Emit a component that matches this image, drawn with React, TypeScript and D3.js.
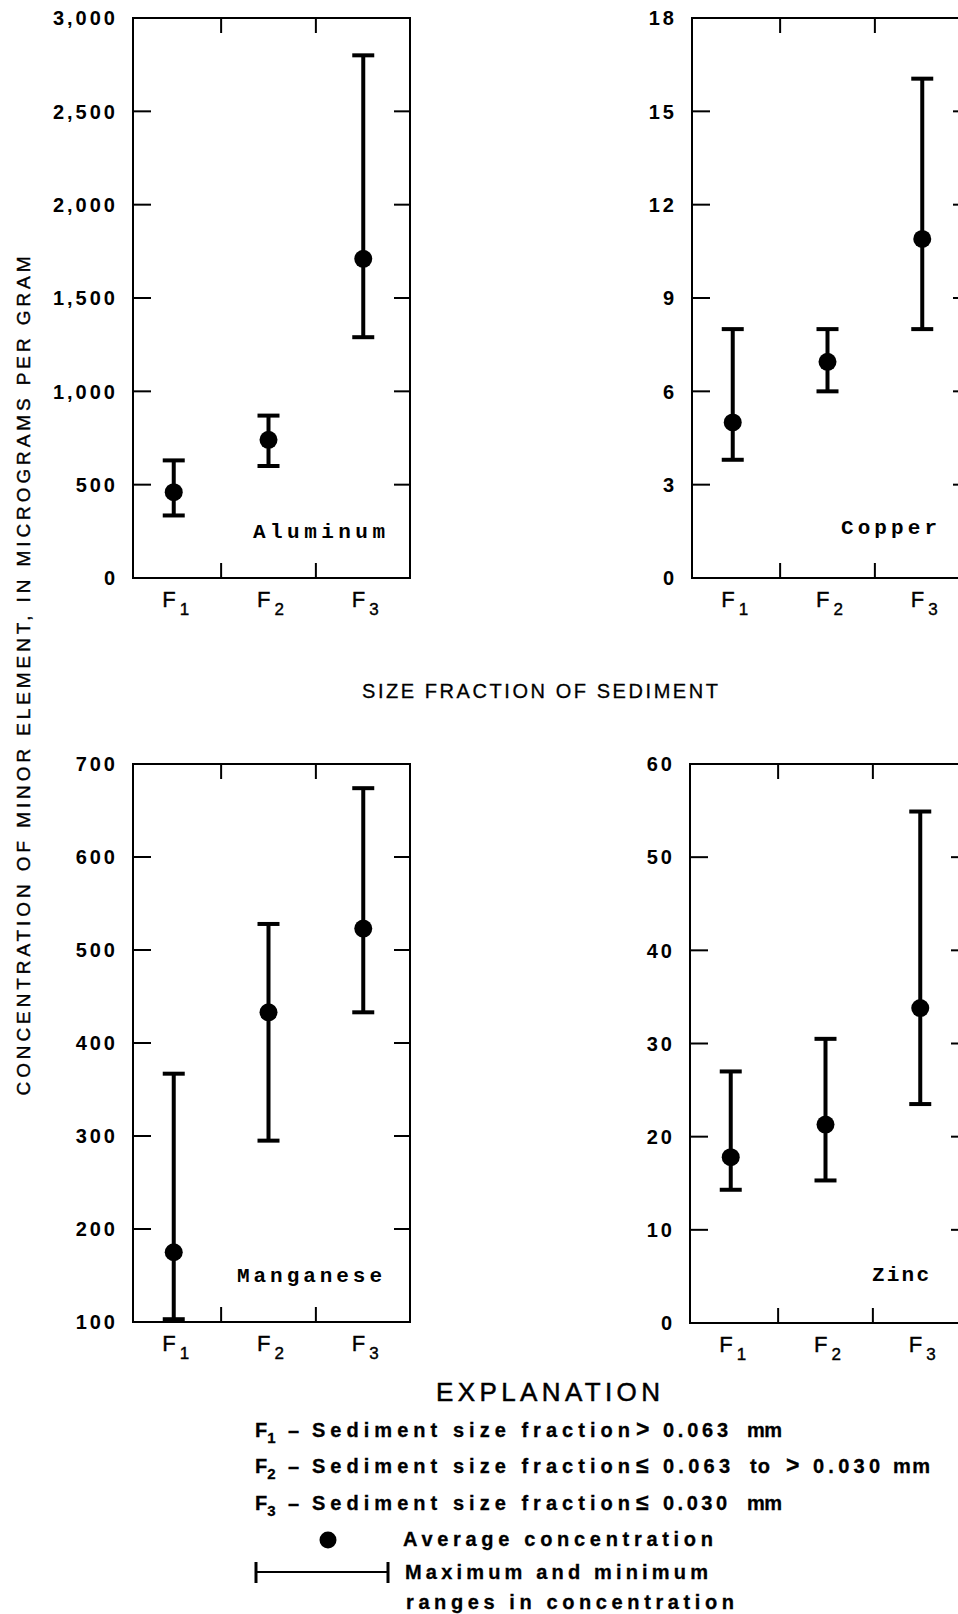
import React from "react";
import * as d3 from "d3";

// size fractions on the x axis
const fractions = ["F1", "F2", "F3"];

// Aluminum, micrograms per gram
const aluminumMean = [460, 740, 1710];
const aluminumMax = [630, 870, 2800];
const aluminumMin = [335, 600, 1290];
const aluminumTicks = [0, 500, 1000, 1500, 2000, 2500, 3000];

// Copper
const copperMean = [5.0, 6.95, 10.9];
const copperMax = [8.0, 8.0, 16.05];
const copperMin = [3.8, 6.0, 8.0];
const copperTicks = [0, 3, 6, 9, 12, 15, 18];

// Manganese
const manganeseMean = [175, 433, 523];
const manganeseMax = [367, 528, 674];
const manganeseMin = [103, 295, 433];
const manganeseTicks = [100, 200, 300, 400, 500, 600, 700];

// Zinc
const zincMean = [17.8, 21.3, 33.8];
const zincMax = [27.0, 30.5, 54.9];
const zincMin = [14.3, 15.3, 23.5];
const zincTicks = [0, 10, 20, 30, 40, 50, 60];

const sans = "'Liberation Sans', Arial, Helvetica, sans-serif";
const mono = "'Liberation Mono', 'Courier New', monospace";

function Panel(props) {
  const { x0, y0, width, height, ticks, fmt, mean, max, min, name, nameX, nameY, nameW } = props;
  const domain = [ticks[0], ticks[ticks.length - 1]];

  const x = d3.scalePoint().domain(fractions).range([0, width - 6]).padding(0.43);
  const y = d3.scaleLinear().domain(domain).range([height, 0]);

  const step = x.step();
  const dividers = fractions.slice(1).map((f) => x(f) - step / 2);
  const inner = ticks.filter((t) => t !== domain[0] && t !== domain[1]);
  const cap = 11;

  return (
    <g transform={`translate(${x0},${y0})`}>
      <rect x={0} y={0} width={width} height={height} fill="none" stroke="#000" strokeWidth={2} />

      {/* inward ticks */}
      {inner.map((t) => (
        <g key={"t" + t} stroke="#000" strokeWidth={2}>
          <line x1={0} x2={18} y1={y(t)} y2={y(t)} />
          <line x1={width - 16} x2={width} y1={y(t)} y2={y(t)} />
        </g>
      ))}
      {dividers.map((d, i) => (
        <g key={"d" + i} stroke="#000" strokeWidth={2}>
          <line x1={d} x2={d} y1={0} y2={15} />
          <line x1={d} x2={d} y1={height - 15} y2={height} />
        </g>
      ))}

      {/* y tick labels */}
      {ticks.map((t) => (
        <text
          key={"l" + t}
          x={-15}
          y={y(t)}
          dy="0.36em"
          textAnchor="end"
          fontFamily={sans}
          fontWeight="bold"
          fontSize={20}
          letterSpacing={3}
        >
          {fmt(t)}
        </text>
      ))}

      {/* error bars and means */}
      {fractions.map((f, i) => (
        <g key={f}>
          <line x1={x(f)} x2={x(f)} y1={y(max[i])} y2={y(min[i])} stroke="#000" strokeWidth={4} />
          <line x1={x(f) - cap} x2={x(f) + cap} y1={y(max[i])} y2={y(max[i])} stroke="#000" strokeWidth={4} />
          <line x1={x(f) - cap} x2={x(f) + cap} y1={y(min[i])} y2={y(min[i])} stroke="#000" strokeWidth={4} />
          <circle cx={x(f)} cy={y(mean[i])} r={9} fill="#000" />
        </g>
      ))}

      {/* x category labels */}
      {fractions.map((f) => (
        <text
          key={"x" + f}
          x={x(f) + 2}
          y={height + 29}
          textAnchor="middle"
          fontFamily={sans}
          fontSize={22}
          stroke="#000"
          strokeWidth={0.4}
        >
          <tspan>{f[0]}</tspan>
          <tspan dx={4} dy={8} fontSize={17}>
            {f.slice(1)}
          </tspan>
        </text>
      ))}

      <text
        x={nameX - x0}
        y={nameY - y0}
        fontFamily={mono}
        fontWeight="bold"
        fontSize={21}
        textLength={nameW}
        lengthAdjust="spacing"
      >
        {name}
      </text>
    </g>
  );
}

function Sub({ x, y, main, sub }) {
  return (
    <text x={x} y={y} fontFamily={sans} fontWeight="bold" fontSize={20} stroke="#000" strokeWidth={0.3}>
      <tspan>{main}</tspan>
      <tspan dx={0} dy={6} fontSize={15}>
        {sub}
      </tspan>
    </text>
  );
}

function Piece({ x, y, w, children, size = 20 }) {
  return (
    <text
      x={x}
      y={y}
      fontFamily={sans}
      fontWeight="bold"
      fontSize={size}
      stroke="#000"
      strokeWidth={0.3}
      textLength={w}
      lengthAdjust="spacing"
    >
      {children}
    </text>
  );
}

export default function App() {
  const comma = d3.format(",");
  const plain = d3.format("d");

  return (
    <div>
      <style>{"body{margin:0}"}</style>
      <svg width={958} height={1614} style={{ display: "block", background: "#fff" }}>
        <Panel
          x0={133} y0={18} width={277} height={560}
          ticks={aluminumTicks} fmt={comma}
          mean={aluminumMean} max={aluminumMax} min={aluminumMin}
          name="Aluminum" nameX={253} nameY={538} nameW={132}
        />
        <Panel
          x0={692} y0={18} width={277} height={560}
          ticks={copperTicks} fmt={plain}
          mean={copperMean} max={copperMax} min={copperMin}
          name="Copper" nameX={841} nameY={534} nameW={96}
        />
        <Panel
          x0={133} y0={764} width={277} height={558}
          ticks={manganeseTicks} fmt={plain}
          mean={manganeseMean} max={manganeseMax} min={manganeseMin}
          name="Manganese" nameX={237} nameY={1282} nameW={145}
        />
        <Panel
          x0={690} y0={764} width={277} height={559}
          ticks={zincTicks} fmt={plain}
          mean={zincMean} max={zincMax} min={zincMin}
          name="Zinc" nameX={872} nameY={1281} nameW={57}
        />

        {/* axis titles */}
        <text
          transform="translate(30,676) rotate(-90)"
          textAnchor="middle"
          fontFamily={sans}
          fontSize={19}
          stroke="#000"
          strokeWidth={0.4}
          textLength={839}
          lengthAdjust="spacing"
        >
          CONCENTRATION OF MINOR ELEMENT, IN MICROGRAMS PER GRAM
        </text>
        <text
          x={362}
          y={698}
          fontFamily={sans}
          fontSize={20}
          stroke="#000"
          strokeWidth={0.3}
          textLength={356}
          lengthAdjust="spacing"
        >
          SIZE FRACTION OF SEDIMENT
        </text>

        {/* explanation */}
        <text
          x={436}
          y={1401}
          fontFamily={sans}
          fontSize={26}
          stroke="#000"
          strokeWidth={0.5}
          textLength={224}
          lengthAdjust="spacing"
        >
          EXPLANATION
        </text>

        <Sub x={255} y={1437} main="F" sub="1" />
        <Piece x={288} y={1437} w={14}>–</Piece>
        <Piece x={312} y={1437} w={318}>Sediment size fraction</Piece>
        <Piece x={636} y={1437} w={19} size={23}>&gt;</Piece>
        <Piece x={663} y={1437} w={65}>0.063</Piece>
        <Piece x={747} y={1437} w={35}>mm</Piece>

        <Sub x={255} y={1473} main="F" sub="2" />
        <Piece x={288} y={1473} w={14}>–</Piece>
        <Piece x={312} y={1473} w={318}>Sediment size fraction</Piece>
        <Piece x={636} y={1473} w={19} size={23}>≤</Piece>
        <Piece x={663} y={1473} w={67}>0.063</Piece>
        <Piece x={750} y={1473} w={20}>to</Piece>
        <Piece x={786} y={1473} w={19} size={23}>&gt;</Piece>
        <Piece x={813} y={1473} w={67}>0.030</Piece>
        <Piece x={893} y={1473} w={37}>mm</Piece>

        <Sub x={255} y={1510} main="F" sub="3" />
        <Piece x={288} y={1510} w={14}>–</Piece>
        <Piece x={312} y={1510} w={318}>Sediment size fraction</Piece>
        <Piece x={636} y={1510} w={19} size={23}>≤</Piece>
        <Piece x={663} y={1510} w={64}>0.030</Piece>
        <Piece x={747} y={1510} w={35}>mm</Piece>

        <circle cx={328} cy={1540} r={8.5} fill="#000" />
        <Piece x={403} y={1546} w={310}>Average concentration</Piece>

        <g stroke="#000">
          <line x1={256} x2={388} y1={1572} y2={1572} strokeWidth={2} />
          <line x1={256} x2={256} y1={1562} y2={1583} strokeWidth={3} />
          <line x1={388} x2={388} y1={1562} y2={1583} strokeWidth={3} />
        </g>
        <Piece x={405} y={1579} w={303}>Maximum and minimum</Piece>
        <Piece x={406} y={1609} w={328}>ranges in concentration</Piece>
      </svg>
    </div>
  );
}
